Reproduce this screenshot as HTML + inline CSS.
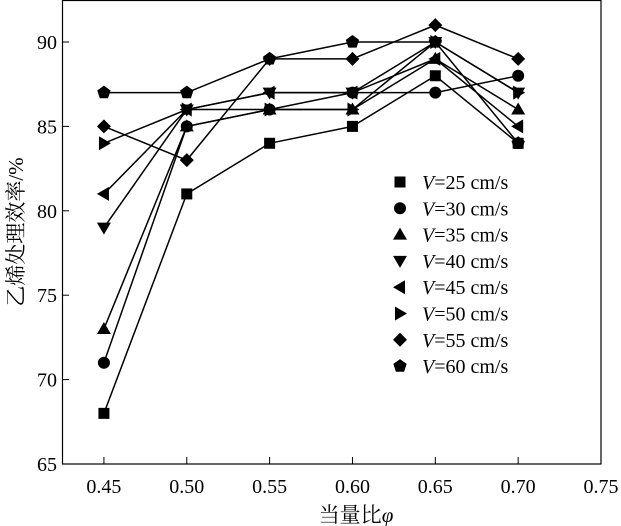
<!DOCTYPE html>
<html><head><meta charset="utf-8"><style>body{margin:0;background:#fff}svg{display:block}text{font-family:"Liberation Serif","Noto Serif CJK SC",serif}</style></head>
<body>
<svg id="c" width="621" height="526" xmlns="http://www.w3.org/2000/svg"></svg>
<script>
const categories=[0.45,0.50,0.55,0.60,0.65,0.70];
const s25=[68,81,84,85,88,84];
const s30=[71,85,86,87,87,88];
const s35=[73,85,86,86,89,86];
const s40=[79,86,87,87,90,87];
const s45=[81,86,87,87,89,85];
const s50=[84,86,86,86,90,87];
const s55=[85,83,89,89,91,89];
const s60=[87,87,89,90,90,84];
const seriesLabels=["25","30","35","40","45","50","55","60"];
const xTicks=["0.45","0.50","0.55","0.60","0.65","0.70","0.75"];
const yTicks=["65","70","75","80","85","90"];
const series=[s25,s30,s35,s40,s45,s50,s55,s60];
const shapes=["square","circle","up","down","left","right","diamond","pentagon"];
const NS="http://www.w3.org/2000/svg",svg=document.getElementById('c');
const X=v=>62.5+(v-0.425)/0.325*538.5, Y=v=>464-(v-65)*16.88;
function el(t,a,p){const e=document.createElementNS(NS,t);for(const k in a)e.setAttribute(k,a[k]);(p||svg).appendChild(e);return e;}
function marker(shape,x,y,g){let pts;
 if(shape=="square")return el('rect',{x:x-5.5,y:y-5.5,width:11,height:11},g);
 if(shape=="circle")return el('circle',{cx:x,cy:y,r:6},g);
 if(shape=="up")pts=[[x,y-7],[x+7,y+5],[x-7,y+5]];
 if(shape=="down")pts=[[x,y+7],[x+7,y-5],[x-7,y-5]];
 if(shape=="left")pts=[[x-7,y],[x+5,y-7],[x+5,y+7]];
 if(shape=="right")pts=[[x+7,y],[x-5,y-7],[x-5,y+7]];
 if(shape=="diamond")pts=[[x,y-7],[x+7,y],[x,y+7],[x-7,y]];
 if(shape=="pentagon"){pts=[];for(let i=0;i<5;i++){const a=-Math.PI/2+i*2*Math.PI/5;pts.push([x+7*Math.cos(a),y+7*Math.sin(a)]);}}
 return el('polygon',{points:pts.map(p=>p.join(',')).join(' ')},g);}
const frame=el('rect',{x:62.5,y:0.5,width:538.5,height:463.5,fill:'none',stroke:'#000','stroke-width':1.2});

xTicks.forEach((t,i)=>{const v=0.45+i*0.05,x=X(v);
 el('line',{x1:x,x2:x,y1:464,y2:457,stroke:'#000'});
 const tx=el('text',{x:x,y:493,'text-anchor':'middle','font-size':20});tx.textContent=t;
 });
yTicks.forEach((t,i)=>{const v=65+i*5,y=Y(v);
 el('line',{x1:62.5,x2:69,y1:y,y2:y,stroke:'#000'});
 const tx=el('text',{x:57,y:y+7,'text-anchor':'end','font-size':20});tx.textContent=t;
 });
const xt=el('text',{x:356,y:522,'text-anchor':'middle','font-size':21});xt.innerHTML='当量比<tspan font-style="italic">φ</tspan>';

const yt=el('text',{x:0,y:0,'text-anchor':'middle','font-size':21,transform:'translate(23,232) rotate(-90)'});yt.textContent='乙烯处理效率/%';

series.forEach((s,k)=>{const g=el('g',{});
 
 el('polyline',{points:s.map((v,i)=>X(categories[i])+','+Y(v)).join(' '),fill:'none',stroke:'#000','stroke-width':1.5},g);
 s.forEach((v,i)=>{const m=marker(shapes[k],X(categories[i]),Y(v),g);
  });
 const lg=el('g',{});
 const ly=182+k*26.3;marker(shapes[k],400,ly,lg);
 const t=el('text',{x:422,y:ly+7,'font-size':20},lg);t.innerHTML='<tspan font-style="italic">V</tspan>=' +seriesLabels[k]+' cm/s';});
</script>
</body></html>
